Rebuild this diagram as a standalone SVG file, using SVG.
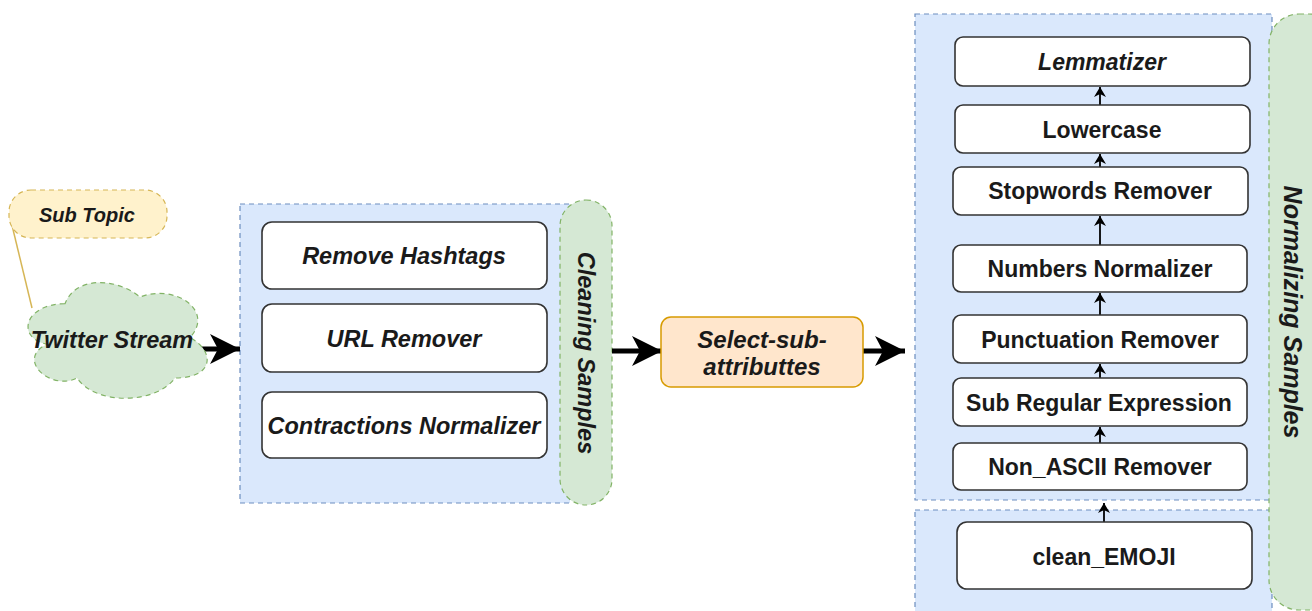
<svg xmlns="http://www.w3.org/2000/svg" width="1312" height="611" viewBox="0 0 1312 611">
<style>
.t{font-family:"Liberation Sans",Arial,sans-serif;font-weight:bold;fill:#1a1a1a;text-anchor:middle;dominant-baseline:central}
.i{font-style:italic}
.box{fill:#fff;stroke:#333;stroke-width:1.6}
.blue{fill:#dae8fc;stroke:#6c8ebf;stroke-width:1.2;stroke-dasharray:5 4}
.green{fill:#d5e8d4;stroke:#82b366;stroke-width:1.2;stroke-dasharray:5 4}
.big{stroke:#000;stroke-width:5;fill:none}
.small{stroke:#000;stroke-width:1.8;fill:none}
</style>
<defs>
<marker id="bh" markerUnits="userSpaceOnUse" markerWidth="34" markerHeight="34" refX="30" refY="15" orient="auto">
<path d="M0,0 L30,15 L0,30 L8,15 Z" fill="#000"/>
</marker>
<marker id="sh" markerUnits="userSpaceOnUse" markerWidth="14" markerHeight="14" refX="10" refY="6" orient="auto">
<path d="M0,0 L10,6 L0,12 L3,6 Z" fill="#000"/>
</marker>
</defs>
<rect width="1312" height="611" fill="#fff"/>

<g id="cleaning-group">
<rect class="blue" x="240" y="204" width="330" height="299"/>
<rect class="green" x="560" y="200" width="52" height="305" rx="26"/>
<text class="t i" font-size="23.5" transform="translate(586,353) rotate(90)">Cleaning Samples</text>
</g>
<g id="normalizing-group">
<rect class="blue" x="915" y="14" width="357" height="486"/>
<rect class="blue" x="915" y="510" width="357" height="110"/>
<rect class="green" x="1269" y="14" width="70" height="596" rx="30"/>
<text class="t i" font-size="25" transform="translate(1293,312) rotate(90)">Normalizing Samples</text>
</g>

<g id="connectors">
<line x1="10" y1="217" x2="32" y2="308" stroke="#d6b656" stroke-width="1.5"/>
<line class="big" x1="198" y1="349" x2="240" y2="349" marker-end="url(#bh)"/>
<line class="big" x1="612" y1="351" x2="662" y2="351" marker-end="url(#bh)"/>
<line class="big" x1="863" y1="351" x2="905" y2="351" marker-end="url(#bh)"/>
<line class="small" x1="1100" y1="105" x2="1100" y2="87" marker-end="url(#sh)"/>
<line class="small" x1="1100" y1="167" x2="1100" y2="154" marker-end="url(#sh)"/>
<line class="small" x1="1100" y1="245" x2="1100" y2="216" marker-end="url(#sh)"/>
<line class="small" x1="1100" y1="315" x2="1100" y2="293" marker-end="url(#sh)"/>
<line class="small" x1="1100" y1="378" x2="1100" y2="364" marker-end="url(#sh)"/>
<line class="small" x1="1100" y1="443" x2="1100" y2="427" marker-end="url(#sh)"/>
<line class="small" x1="1104" y1="522" x2="1104" y2="503" marker-end="url(#sh)"/>
</g>

<g id="sub-topic">
<rect x="9" y="190" width="158" height="48" rx="22" fill="#fff2cc" stroke="#d6b656" stroke-width="1.2" stroke-dasharray="5 4"/>
<text class="t i" font-size="20" x="87" y="215">Sub Topic</text>
</g>
<g id="twitter-stream">
<path class="green" d="M65,303.75 C25,303.75 15,337.5 47,344.25 C15,359.1 51,391.5 77,378 C95,405 155,405 175,378 C215,378 215,351 190,337.5 C215,310.5 175,283.5 140,297 C115,276.75 75,276.75 65,303.75 Z"/>
<text class="t i" font-size="23.5" x="112" y="340">Twitter Stream</text>
</g>
<g id="remove-hashtags">
<rect class="box" x="262" y="222" width="285" height="67" rx="10"/>
<text class="t i" font-size="23.5" x="404" y="256">Remove Hashtags</text>
</g>
<g id="url-remover">
<rect class="box" x="262" y="304" width="285" height="68" rx="10"/>
<text class="t i" font-size="23.5" x="404" y="339">URL Remover</text>
</g>
<g id="contractions-normalizer">
<rect class="box" x="262" y="392" width="285" height="66" rx="10"/>
<text class="t i" font-size="23.5" x="404" y="426">Contractions Normalizer</text>
</g>
<g id="select-sub-attributtes">
<rect x="661" y="317" width="202" height="70" rx="10" fill="#ffe6cc" stroke="#d79b00" stroke-width="1.5"/>
<text class="t i" font-size="24" x="762" y="339">Select-sub-</text>
<text class="t i" font-size="24" x="762" y="366">attributtes</text>
</g>
<g id="lemmatizer">
<rect class="box" x="955" y="37" width="295" height="49" rx="8"/>
<text class="t i" font-size="23" x="1102" y="62">Lemmatizer</text>
</g>
<g id="lowercase">
<rect class="box" x="955" y="105" width="295" height="48" rx="8"/>
<text class="t" font-size="23" x="1102" y="130">Lowercase</text>
</g>
<g id="stopwords-remover">
<rect class="box" x="953" y="167" width="295" height="48" rx="8"/>
<text class="t" font-size="23" x="1100" y="191">Stopwords Remover</text>
</g>
<g id="numbers-normalizer">
<rect class="box" x="953" y="245" width="294" height="47" rx="8"/>
<text class="t" font-size="23" x="1100" y="269">Numbers Normalizer</text>
</g>
<g id="punctuation-remover">
<rect class="box" x="953" y="315" width="294" height="48" rx="8"/>
<text class="t" font-size="23" x="1100" y="340">Punctuation Remover</text>
</g>
<g id="sub-regular-expression">
<rect class="box" x="953" y="378" width="294" height="48" rx="8"/>
<text class="t" font-size="23" x="1099" y="403">Sub Regular Expression</text>
</g>
<g id="non-ascii-remover">
<rect class="box" x="953" y="443" width="294" height="47" rx="8"/>
<text class="t" font-size="23" x="1100" y="467">Non_ASCII Remover</text>
</g>
<g id="clean-emoji">
<rect class="box" x="957" y="522" width="295" height="67" rx="10"/>
<text class="t" font-size="23" x="1104" y="557">clean_EMOJI</text>
</g>
</svg>
